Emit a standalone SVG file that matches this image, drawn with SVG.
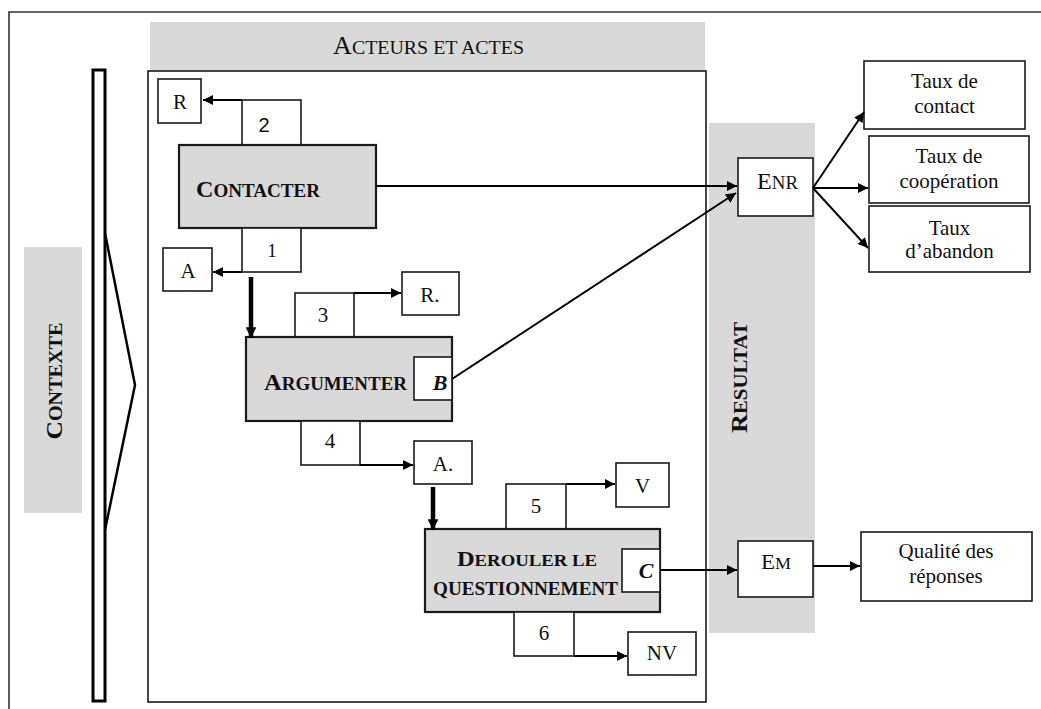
<svg xmlns="http://www.w3.org/2000/svg" width="1041" height="709" viewBox="0 0 1041 709">
<style>
.gray{fill:#d9d9d9;stroke:none}
.box{fill:#fff;stroke:#1a1a1a;stroke-width:1.6}
.main{fill:#d9d9d9;stroke:#1a1a1a;stroke-width:2.2}
.ln{fill:none;stroke:#000;stroke-width:2}
.thick{fill:none;stroke:#000;stroke-width:4.5}
.t{font-family:"Liberation Serif","Times New Roman",serif;fill:#111}
.b{font-family:"Liberation Serif","Times New Roman",serif;font-weight:bold;fill:#111}
.s{font-family:"Liberation Sans",Arial,sans-serif;fill:#111}
.m{text-anchor:middle}
</style>
<defs>
<marker id="ah" viewBox="0 0 10 10" refX="10" refY="5" markerWidth="5.5" markerHeight="5" orient="auto" markerUnits="strokeWidth">
<path d="M0,0 L10,5 L0,10 z" fill="#000"/>
</marker>
<marker id="ahT" viewBox="0 0 10 10" refX="10" refY="5" markerWidth="2.6" markerHeight="2.4" orient="auto" markerUnits="strokeWidth">
<path d="M0,0 L10,5 L0,10 z" fill="#000"/>
</marker>
</defs>

<g id="frame">
<path d="M9,709 L9,12 L1041,12" fill="none" stroke="#333" stroke-width="1.6"/>
</g>

<g id="contexte">
<rect class="gray" x="24" y="247" width="58" height="266"/>
<text class="b m" x="62" y="381" transform="rotate(-90 62 381)" textLength="117" lengthAdjust="spacingAndGlyphs"><tspan font-size="24">C</tspan><tspan font-size="19">ONTEXTE</tspan></text>
</g>

<g id="bar">
<rect x="93" y="70" width="12" height="631" fill="#fff" stroke="#000" stroke-width="3"/>
<path d="M105,233 L135,385 L105,530" fill="none" stroke="#000" stroke-width="2.5"/>
</g>

<g id="acteurs">
<rect class="gray" x="150" y="22" width="555" height="49"/>
<text class="t" x="333" y="54" textLength="191" lengthAdjust="spacingAndGlyphs"><tspan font-size="25">A</tspan><tspan font-size="19">CTEURS ET ACTES</tspan></text>
<rect x="148" y="71" width="558" height="631" fill="none" stroke="#1a1a1a" stroke-width="1.6"/>
</g>

<g id="resultat">
<rect class="gray" x="709" y="123" width="106" height="510"/>
<text class="b m" x="747" y="377.5" transform="rotate(-90 747 377.5)" textLength="111" lengthAdjust="spacingAndGlyphs"><tspan font-size="24">R</tspan><tspan font-size="19">ESULTAT</tspan></text>
</g>

<g id="node-R">
<rect class="box" x="158" y="79" width="43" height="44"/>
<text class="t m" x="180" y="109" font-size="21">R</text>
</g>
<g id="tab-2">
<rect class="box" x="242" y="100" width="59" height="45"/>
<text class="s m" x="264" y="132" font-size="20">2</text>
</g>
<g id="node-contacter">
<rect class="main" x="179" y="145" width="197" height="83"/>
<text class="b" x="196" y="197" textLength="124" lengthAdjust="spacingAndGlyphs"><tspan font-size="24">C</tspan><tspan font-size="19">ONTACTER</tspan></text>
</g>
<g id="tab-1">
<rect class="box" x="242" y="228" width="59" height="44"/>
<text class="t m" x="272" y="257" font-size="19">1</text>
</g>
<g id="node-A">
<rect class="box" x="163" y="248" width="49" height="43"/>
<text class="t m" x="188" y="278" font-size="21">A</text>
</g>

<g id="tab-3">
<rect class="box" x="295" y="293" width="59" height="44"/>
<text class="t m" x="323" y="322" font-size="21">3</text>
</g>
<g id="node-R2">
<rect class="box" x="402" y="272" width="57" height="43"/>
<text class="t m" x="430" y="302" font-size="21">R.</text>
</g>
<g id="node-argumenter">
<rect class="main" x="246" y="337" width="206" height="84"/>
<text class="b" x="264" y="390" textLength="143" lengthAdjust="spacingAndGlyphs"><tspan font-size="24">A</tspan><tspan font-size="18.5">RGUMENTER</tspan></text>
<rect class="box" x="414" y="357" width="38" height="43"/>
<text class="b m" x="440" y="390" font-size="22" font-style="italic">B</text>
</g>
<g id="tab-4">
<rect class="box" x="301" y="421" width="59" height="44"/>
<text class="t m" x="330" y="448" font-size="21">4</text>
</g>
<g id="node-A2">
<rect class="box" x="414" y="441" width="58" height="43"/>
<text class="t m" x="443" y="471" font-size="21">A.</text>
</g>

<g id="tab-5">
<rect class="box" x="506" y="484" width="60" height="45"/>
<text class="t m" x="536" y="513" font-size="21">5</text>
</g>
<g id="node-V">
<rect class="box" x="616" y="463" width="53" height="44"/>
<text class="t m" x="642.5" y="493" font-size="21">V</text>
</g>
<g id="node-derouler">
<rect class="main" x="425" y="529" width="235" height="83"/>
<text class="b" x="457" y="566" textLength="140" lengthAdjust="spacingAndGlyphs"><tspan font-size="21.5">D</tspan><tspan font-size="16.5">EROULER LE</tspan></text>
<text class="b" x="433" y="595" font-size="18" textLength="185" lengthAdjust="spacingAndGlyphs">QUESTIONNEMENT</text>
<rect class="box" x="622" y="549" width="38" height="43"/>
<text class="b m" x="646" y="578" font-size="22" font-style="italic">C</text>
</g>
<g id="tab-6">
<rect class="box" x="514" y="612" width="60" height="44"/>
<text class="t m" x="544" y="640" font-size="21">6</text>
</g>
<g id="node-NV">
<rect class="box" x="628" y="632" width="68" height="43"/>
<text class="t m" x="662" y="660" font-size="21">NV</text>
</g>

<g id="node-ENR">
<rect class="box" x="738" y="158" width="75" height="58"/>
<text class="t" x="757" y="189" textLength="41" lengthAdjust="spacingAndGlyphs"><tspan font-size="23">E</tspan><tspan font-size="18">NR</tspan></text>
</g>
<g id="node-EM">
<rect class="box" x="738" y="541" width="75" height="56"/>
<text class="t" x="761" y="569" textLength="30" lengthAdjust="spacingAndGlyphs"><tspan font-size="21">E</tspan><tspan font-size="16.5">M</tspan></text>
</g>

<g id="node-taux-contact">
<rect class="box" x="864" y="61" width="161" height="68"/>
<text class="t m" x="944.5" y="88" font-size="21">Taux de</text>
<text class="t m" x="944.5" y="113" font-size="21">contact</text>
</g>
<g id="node-taux-cooperation">
<rect class="box" x="869" y="136" width="160" height="67"/>
<text class="t m" x="949" y="163" font-size="21">Taux de</text>
<text class="t m" x="949" y="188" font-size="21">coopération</text>
</g>
<g id="node-taux-abandon">
<rect class="box" x="869" y="206" width="161" height="66"/>
<text class="t m" x="949.5" y="235" font-size="21">Taux</text>
<text class="t m" x="949.5" y="258" font-size="21">d’abandon</text>
</g>
<g id="node-qualite">
<rect class="box" x="861" y="532" width="171" height="69"/>
<text class="t m" x="946" y="558" font-size="21">Qualité des</text>
<text class="t m" x="946" y="583" font-size="21">réponses</text>
</g>

<g id="connectors">
<line class="ln" x1="242" y1="100" x2="203" y2="100" marker-end="url(#ah)"/>
<line class="ln" x1="242" y1="272" x2="213" y2="272" marker-end="url(#ah)"/>
<line class="ln" x1="354" y1="293" x2="401" y2="293" marker-end="url(#ah)"/>
<line class="ln" x1="360" y1="465" x2="413" y2="465" marker-end="url(#ah)"/>
<line class="ln" x1="566" y1="484" x2="615" y2="484" marker-end="url(#ah)"/>
<line class="ln" x1="574" y1="656" x2="627" y2="656" marker-end="url(#ah)"/>
<line class="thick" x1="251" y1="277" x2="251" y2="338" marker-end="url(#ahT)"/>
<line class="thick" x1="433" y1="487" x2="433" y2="530" marker-end="url(#ahT)"/>
<line class="ln" x1="376" y1="186" x2="737" y2="186" marker-end="url(#ah)"/>
<line class="ln" x1="452" y1="379" x2="736" y2="193" marker-end="url(#ah)"/>
<line class="ln" x1="813" y1="188" x2="864" y2="112" marker-end="url(#ah)"/>
<line class="ln" x1="813" y1="188" x2="868" y2="188" marker-end="url(#ah)"/>
<line class="ln" x1="813" y1="188" x2="868" y2="248" marker-end="url(#ah)"/>
<line class="ln" x1="660" y1="570" x2="737" y2="570" marker-end="url(#ah)"/>
<line class="ln" x1="813" y1="566" x2="860" y2="566" marker-end="url(#ah)"/>
</g>
</svg>
